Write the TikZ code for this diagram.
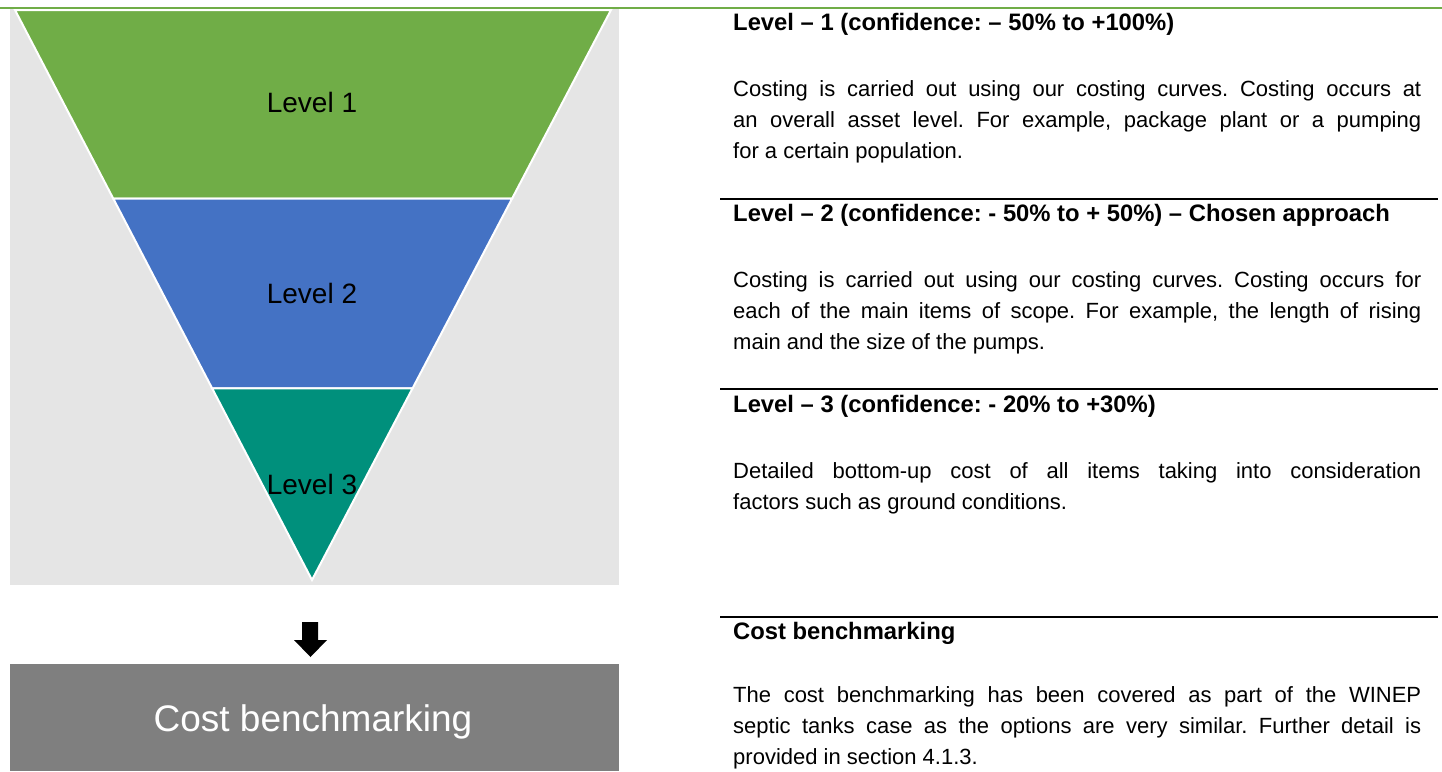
\documentclass[tikz,border=0pt]{standalone}
\usepackage{fontspec}
\setmainfont{Liberation Sans}
\usetikzlibrary{calc}
\definecolor{lvgreen}{HTML}{70AD47}
\definecolor{lvblue}{HTML}{4472C4}
\definecolor{lvteal}{HTML}{00907C}
\definecolor{bggray}{HTML}{E5E5E5}
\definecolor{boxgray}{HTML}{7F7F7F}
\tikzset{
  band/.style={draw=white, line width=2pt, line join=miter},
  lvtext/.style={font=\fontsize{28}{32}\selectfont, text=black, anchor=base, inner sep=0pt},
  head/.style={font=\fontsize{23.8}{27}\selectfont\bfseries, anchor=base west, inner sep=0pt},
  body/.style={font=\fontsize{22}{26}\selectfont, anchor=base west, inner sep=0pt},
  rulebk/.style={line width=1.6pt, black},
}
\newcommand{\jl}[1]{\makebox[688pt][s]{#1}}
\frenchspacing
\begin{document}
\begin{tikzpicture}[x=1pt,y=-1pt]
\useasboundingbox (0,0) rectangle (1442,771);
% background panel
\fill[bggray] (10,8) rectangle (619,585);
% top green rule
\draw[lvgreen, line width=1.6pt] (0,8) -- (1442,8);
% funnel
\coordinate (TL) at (15,10);
\coordinate (TR) at (611,10);
\coordinate (AP) at (312,580);
\coordinate (L1) at ($(TL)!0.3310!(AP)$);
\coordinate (R1) at ($(TR)!0.3310!(AP)$);
\coordinate (L2) at ($(TL)!0.6637!(AP)$);
\coordinate (R2) at ($(TR)!0.6637!(AP)$);
\filldraw[band, fill=lvgreen] (TL) -- (TR) -- (R1) -- (L1) -- cycle;
\filldraw[band, fill=lvblue] (L1) -- (R1) -- (R2) -- (L2) -- cycle;
\filldraw[band, fill=lvteal] (L2) -- (R2) -- (AP) -- cycle;
\node[lvtext] (lv1) at (312,112.5) {Level 1};
\node[lvtext] (lv2) at (312,303.5) {Level 2};
\node[lvtext] (lv3) at (312,494.5) {Level 3};
% down block arrow
\fill[black] (302,622) -- (318,622) -- (318,640) -- (327,640) -- (310.5,657) -- (294,640) -- (302,640) -- cycle;
% cost benchmarking box
\fill[boxgray] (10,664) rectangle (619,771);
\node[font=\fontsize{37}{40}\selectfont, text=white, anchor=base, inner sep=0pt] (cb) at (313,731) {Cost benchmarking};
% right column rules
\draw[rulebk] (720,199) -- (1438,199);
\draw[rulebk] (720,389) -- (1438,389);
\draw[rulebk] (720,617) -- (1438,617);
% headings
\node[head] (h1) at (733,30.5) {Level – 1 (confidence: – 50\% to +100\%)};
\node[head] (h2) at (733,221.5) {Level – 2 (confidence: - 50\% to + 50\%) – Chosen approach};
\node[head] (h3) at (733,412) {Level – 3 (confidence: - 20\% to +30\%)};
\node[head] (h4) at (733,639) {Cost benchmarking};
% paragraph 1
\node[body] (p1a) at (733,96) {\jl{Costing is carried out using our costing curves. Costing occurs at}};
\node[body] (p1b) at (733,127) {\jl{an overall asset level. For example, package plant or a pumping}};
\node[body] (p1c) at (733,158) {for a certain population.};
% paragraph 2
\node[body] (p2a) at (733,287) {\jl{Costing is carried out using our costing curves. Costing occurs for}};
\node[body] (p2b) at (733,318) {\jl{each of the main items of scope. For example, the length of rising}};
\node[body] (p2c) at (733,349) {main and the size of the pumps.};
% paragraph 3
\node[body] (p3a) at (733,478) {\jl{Detailed bottom-up cost of all items taking into consideration}};
\node[body] (p3b) at (733,509) {factors such as ground conditions.};
% paragraph 4
\node[body] (p4a) at (733,702) {\jl{The cost benchmarking has been covered as part of the WINEP}};
\node[body] (p4b) at (733,733) {\jl{septic tanks case as the options are very similar. Further detail is}};
\node[body] (p4c) at (733,764) {provided in section 4.1.3.};
\end{tikzpicture}
\end{document}
